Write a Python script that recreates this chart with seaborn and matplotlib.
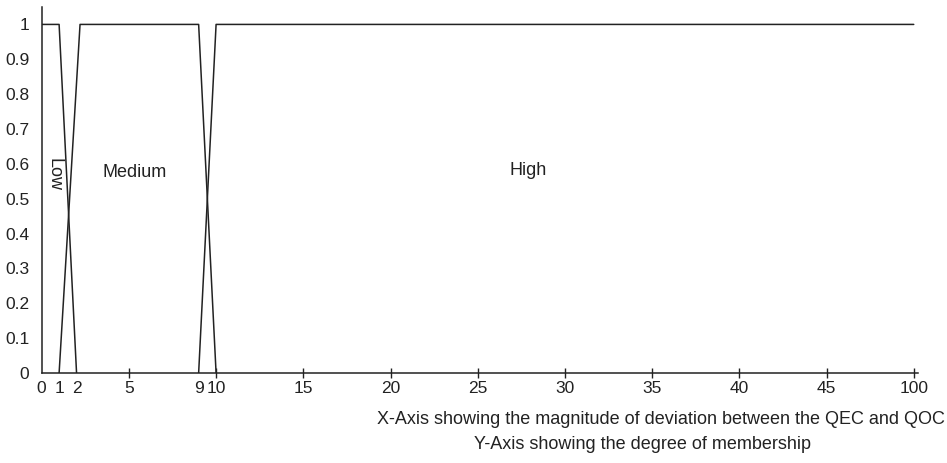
import matplotlib
matplotlib.use("Agg")
import matplotlib.pyplot as plt
import pandas as pd
import seaborn as sns

# Fuzzy membership functions for the deviation between QEC and QOC.
# The last axis position (50) carries the label "100".
low_x = [0, 1, 2]
low_mu = [1, 1, 0]
medium_x = [1, 2.2, 9, 10]
medium_mu = [0, 1, 1, 0]
high_x = [9, 10, 50]
high_mu = [0, 1, 1]

tick_pos = [0, 1, 2, 5, 9, 10, 15, 20, 25, 30, 35, 40, 45, 50]
tick_labels = ["0", "1", "2", "5", "9", "10", "15", "20", "25", "30", "35", "40", "45", "100"]
mark_pos = [5, 10, 15, 20, 25, 30, 35, 40, 45, 50]
y_ticks = [0, 0.1, 0.2, 0.3, 0.4, 0.5, 0.6, 0.7, 0.8, 0.9, 1]
y_labels = ["0", "0.1", "0.2", "0.3", "0.4", "0.5", "0.6", "0.7", "0.8", "0.9", "1"]

df = pd.concat([
    pd.DataFrame({"x": low_x, "mu": low_mu, "set": "Low"}),
    pd.DataFrame({"x": medium_x, "mu": medium_mu, "set": "Medium"}),
    pd.DataFrame({"x": high_x, "mu": high_mu, "set": "High"}),
], ignore_index=True)

sns.set_theme(style="white")
plt.rcParams["font.family"] = ["Liberation Sans", "DejaVu Sans"]
ink = "#222222"

fig = plt.figure(figsize=(9.47, 4.63), dpi=100)
ax = fig.add_axes([0.044, 0.1944, 0.9255, 0.7905])

sns.lineplot(data=df, x="x", y="mu", units="set", estimator=None, sort=False,
             color=ink, linewidth=1.1, ax=ax, legend=False)

ax.set_xlim(0, 50.25)
ax.set_ylim(0, 1.05)

ax.set_xticks(tick_pos)
ax.set_xticklabels(tick_labels)
ax.set_xticks(mark_pos, minor=True)
ax.xaxis.remove_overlapping_locs = False
ax.tick_params(axis="x", which="major", length=0, pad=6, labelsize=12.5, colors=ink)
ax.tick_params(axis="x", which="minor", direction="inout", length=7, width=1.0,
               color=ink, bottom=True)

ax.set_yticks(y_ticks)
ax.set_yticklabels(y_labels)
ax.tick_params(axis="y", which="major", length=0, pad=9, labelsize=12.5, colors=ink)

for side in ("top", "right"):
    ax.spines[side].set_visible(False)
for side in ("left", "bottom"):
    ax.spines[side].set_color(ink)
    ax.spines[side].set_linewidth(1.1)

ax.set_xlabel("")
ax.set_ylabel("")

# Region names
ax.text(0.7, 0.57, "Low", rotation=-90, ha="center", va="center", fontsize=13, color=ink)
ax.text(5.35, 0.575, "Medium", ha="center", va="center", fontsize=13, color=ink)
ax.text(27.9, 0.582, "High", ha="center", va="center", fontsize=13, color=ink)

fig.text(0.998, 0.093, "X-Axis showing the magnitude of deviation between the QEC and QOC",
         ha="right", va="center", fontsize=13, color=ink)
fig.text(0.678, 0.039, "Y-Axis showing the degree of membership",
         ha="center", va="center", fontsize=13, color=ink)

fig.savefig("out.png", dpi=100)
